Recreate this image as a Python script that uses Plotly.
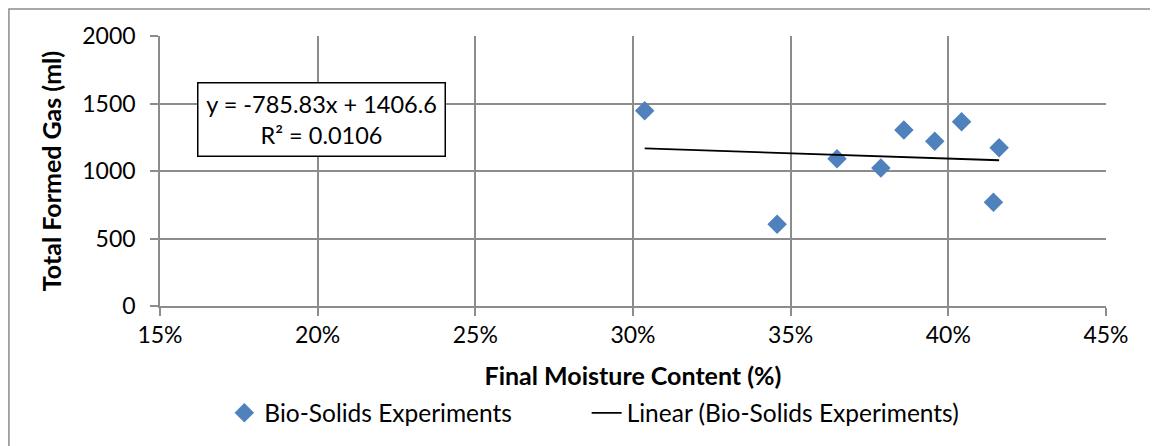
import plotly.graph_objects as go

# moisture content (fraction) vs total formed gas (ml)
moisture = [0.3037, 0.3457, 0.3647, 0.3786, 0.3859, 0.3957, 0.4042, 0.4143, 0.4161]
gas_ml = [1446, 605, 1091, 1022, 1303, 1221, 1365, 768, 1172]

# trendline coefficients as printed on the chart
slope = -785.83
intercept = 1406.6
r_squared = 0.0106

x_ticks = [0.15, 0.20, 0.25, 0.30, 0.35, 0.40, 0.45]
y_ticks = [0, 500, 1000, 1500, 2000]

FONT = "Lato"
GRID = "#8c8c8c"

trend_x = [min(moisture), max(moisture)]
trend_y = [slope * x + intercept for x in trend_x]

fig = go.Figure()

fig.add_trace(go.Scatter(
    x=moisture,
    y=gas_ml,
    mode="markers",
    name="Bio-Solids Experiments",
    marker=dict(symbol="diamond", size=15, color="#4F81BD"),
    legend="legend",
))

fig.add_trace(go.Scatter(
    x=trend_x,
    y=trend_y,
    mode="lines",
    name="Linear (Bio-Solids Experiments)",
    line=dict(color="black", width=1.8),
    legend="legend2",
))

# equation box
fig.add_annotation(
    x=0.171, y=0.692, xref="paper", yref="paper",
    xanchor="center", yanchor="middle",
    text=f"y = {slope}x + {intercept}<br>R² = {r_squared}",
    showarrow=False,
    font=dict(family=FONT, size=23.5, color="black"),
    align="center",
    bordercolor="black", borderwidth=1.5, borderpad=4,
    bgcolor="white",
    width=238, height=64,
)

# outer chart border
fig.add_shape(
    type="rect", xref="paper", yref="paper",
    x0=-0.1597, x1=1.08, y0=-0.55, y1=1.1,
    line=dict(color="#8c8c8c", width=1.5),
)

legend_style = dict(
    orientation="h",
    xanchor="left",
    y=-0.396, yanchor="middle",
    font=dict(family=FONT, size=24.5),
    bgcolor="rgba(0,0,0,0)",
)

# page body adds an 8px offset, so the figure is 8px smaller on both axes
fig.update_layout(
    width=1150,
    height=438,
    margin=dict(l=152, r=52, t=28, b=140, autoexpand=False),
    plot_bgcolor="white",
    paper_bgcolor="white",
    font=dict(family=FONT, size=23, color="black"),
    showlegend=True,
    legend=dict(x=0.068, **legend_style),
    legend2=dict(x=0.451, **legend_style),
    xaxis=dict(
        range=[0.15, 0.45],
        tickvals=x_ticks,
        tickformat=".0%",
        tickfont=dict(size=23),
        showgrid=True, gridcolor=GRID, gridwidth=1.5,
        showline=True, linecolor=GRID, linewidth=1.5,
        ticks="outside", ticklen=8, tickcolor=GRID, tickwidth=1.5,
        zeroline=False,
        title=dict(text="<b>Final Moisture Content (%)</b>", font=dict(family=FONT, size=25), standoff=20),
    ),
    yaxis=dict(
        range=[0, 2000],
        tickvals=y_ticks,
        tickfont=dict(size=23),
        ticklabelstandoff=10,
        showgrid=True, gridcolor=GRID, gridwidth=1.5,
        showline=True, linecolor=GRID, linewidth=1.5,
        ticks="outside", ticklen=8, tickcolor=GRID, tickwidth=1.5,
        zeroline=False,
        title=dict(text="<b>Total Formed Gas (ml)</b>", font=dict(family=FONT, size=25), standoff=14),
    ),
)

fig.write_html("out.html")
